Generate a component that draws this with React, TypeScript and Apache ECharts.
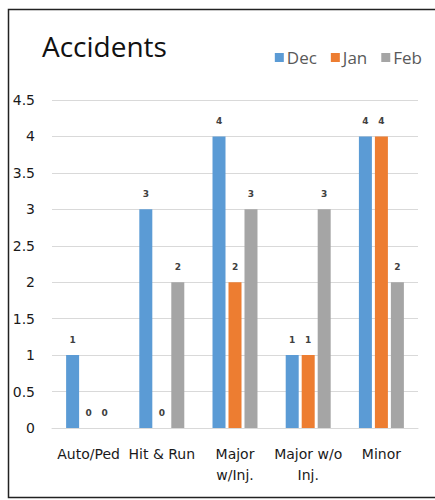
import React, { useEffect, useRef } from "react";
import * as echarts from "echarts";

const categories = ["Auto/Ped", "Hit & Run", "Major\nw/Inj.", "Major w/o\nInj.", "Minor"];
const decValues = [1, 3, 4, 1, 4];
const janValues = [0, 0, 2, 1, 4];
const febValues = [0, 2, 3, 3, 2];
const seriesNames = ["Dec", "Jan", "Feb"];
const seriesColors = ["#5B9BD5", "#ED7D31", "#A5A5A5"];

export default function App() {
  const ref = useRef<HTMLDivElement>(null);

  useEffect(() => {
    if (!ref.current) return;
    const chart = echarts.init(ref.current, null, { renderer: "svg" });
    const valueLabel = {
      show: true,
      position: "top" as const,
      distance: 11,
      fontFamily: "DejaVu Sans",
      fontSize: 9,
      fontWeight: "bold" as const,
      color: "#404040",
    };
    const seriesData = [decValues, janValues, febValues];
    chart.setOption({
      animation: false,
      backgroundColor: "#ffffff",
      title: {
        text: "Accidents",
        left: 37,
        top: 27,
        textStyle: {
          fontFamily: "Open Sans",
          fontSize: 28,
          fontWeight: "normal",
          color: "#111111",
        },
      },
      legend: {
        data: seriesNames,
        right: 8,
        top: 44,
        itemWidth: 9,
        itemHeight: 9,
        itemGap: 14,
        icon: "rect",
        textStyle: {
          fontFamily: "Open Sans",
          fontSize: 17,
          color: "#595959",
          padding: [0, 0, 0, -2],
        },
      },
      graphic: [
        {
          type: "polyline",
          shape: { points: [[435, 9.5], [8.5, 9.5], [8.5, 497.5], [435, 497.5]] },
          style: { fill: "none", stroke: "#222222", lineWidth: 1.5 },
          silent: true,
        },
      ],
      grid: { left: 52, right: 17, top: 100, bottom: 72 },
      xAxis: {
        type: "category",
        data: categories,
        axisLine: { show: true, lineStyle: { color: "#d9d9d9" } },
        axisTick: { show: false },
        axisLabel: {
          interval: 0,
          margin: 15,
          fontFamily: "DejaVu Sans",
          fontSize: 14,
          lineHeight: 21,
          color: "#1a1a1a",
        },
      },
      yAxis: {
        type: "value",
        min: 0,
        max: 4.5,
        interval: 0.5,
        axisLine: { show: false },
        axisTick: { show: false },
        splitLine: { lineStyle: { color: "#d9d9d9" } },
        axisLabel: {
          margin: 17,
          fontFamily: "DejaVu Sans",
          fontSize: 14,
          color: "#1a1a1a",
        },
      },
      series: seriesNames.map((name, i) => ({
        name,
        type: "bar",
        data: seriesData[i],
        barWidth: 13,
        barGap: "23%",
        itemStyle: { color: seriesColors[i] },
        label: valueLabel,
      })),
    });
    return () => chart.dispose();
  }, []);

  return (
    <div
      ref={ref}
      style={{ position: "absolute", left: 0, top: 0, width: 435, height: 500 }}
    />
  );
}
